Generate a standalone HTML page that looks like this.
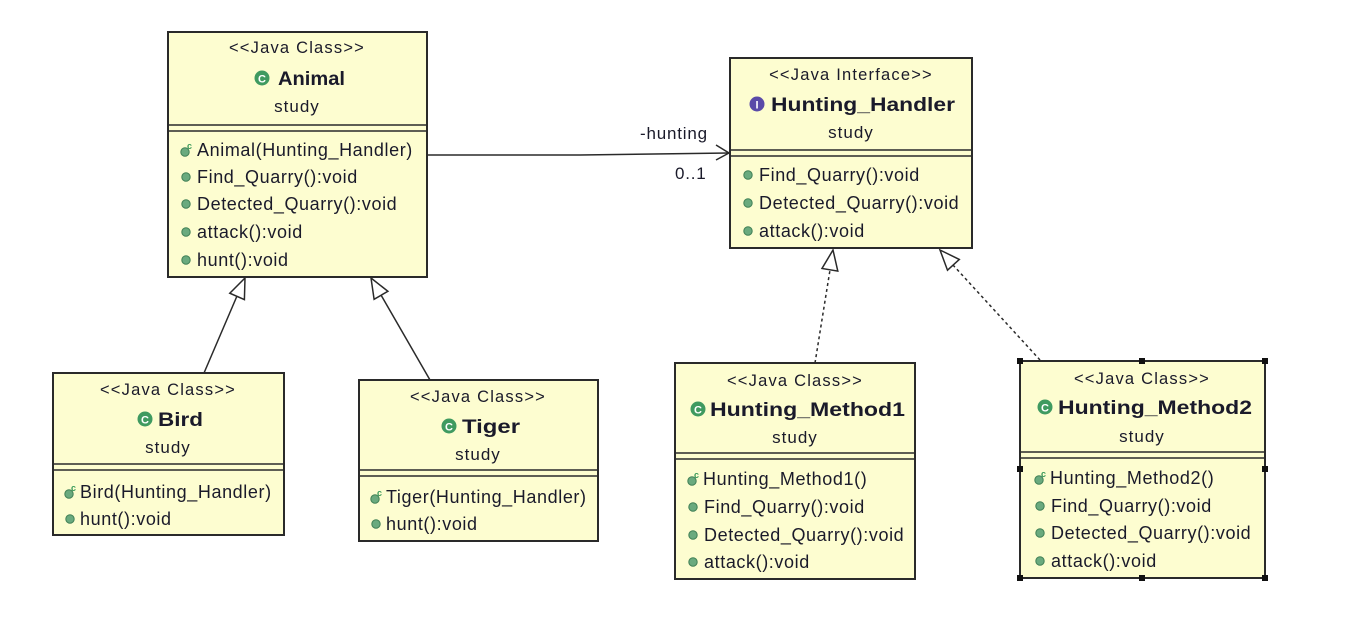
<!DOCTYPE html>
<html><head><meta charset="utf-8"><style>
html,body{margin:0;padding:0;background:#fff;width:1354px;height:626px;overflow:hidden}
svg{display:block}
text{font-family:"Liberation Sans",sans-serif;fill:#1a1a2a}
.st{font-size:16.5px;text-anchor:middle;letter-spacing:1.2px}
.nm{font-size:19px;font-weight:bold}
.pk{font-size:17px;text-anchor:middle;letter-spacing:1px}
.r{font-size:18px;letter-spacing:0.6px}
.lb{font-size:17px;letter-spacing:0.8px}
</style></head><body>
<svg width="1354" height="626" xmlns="http://www.w3.org/2000/svg">
<defs>
<g id="dot"><circle r="4.2" fill="#6aaa7e" stroke="#3f7f55" stroke-width="1"/></g>
<g id="ctor"><circle r="4.2" cx="-1" cy="2" fill="#6aaa7e" stroke="#3f7f55" stroke-width="1"/><text x="1" y="-1" style="font-size:9px;font-weight:bold;fill:#3a9a5a">c</text></g>
<g id="cls"><circle r="7.5" fill="#3f9a60"/><text y="4.5" style="font-size:11px;font-weight:bold;fill:#fff;text-anchor:middle">C</text></g>
<g id="itf"><circle r="7.5" fill="#5a4aa8"/><text y="4.5" style="font-size:11px;font-weight:bold;fill:#fff;text-anchor:middle">I</text></g>
</defs>
<g fill="#fdfdd0" stroke="#2a2a2a" stroke-width="2">
<rect x="168" y="32" width="259" height="245"/>
<rect x="730" y="58" width="242" height="190"/>
<rect x="53" y="373" width="231" height="162"/>
<rect x="359" y="380" width="239" height="161"/>
<rect x="675" y="363" width="240" height="216"/>
<rect x="1020" y="361" width="245" height="217"/>
</g>
<g stroke="#2a2a2a" stroke-width="1.5">
<line x1="168" y1="125" x2="427" y2="125"/><line x1="168" y1="131" x2="427" y2="131"/>
<line x1="730" y1="150" x2="972" y2="150"/><line x1="730" y1="156" x2="972" y2="156"/>
<line x1="53" y1="464" x2="284" y2="464"/><line x1="53" y1="470" x2="284" y2="470"/>
<line x1="359" y1="470" x2="598" y2="470"/><line x1="359" y1="476" x2="598" y2="476"/>
<line x1="675" y1="453" x2="915" y2="453"/><line x1="675" y1="459" x2="915" y2="459"/>
<line x1="1020" y1="452" x2="1265" y2="452"/><line x1="1020" y1="458" x2="1265" y2="458"/>
</g>
<g fill="#111">
<rect x="1017" y="358" width="6" height="6"/><rect x="1139" y="358" width="6" height="6"/><rect x="1262" y="358" width="6" height="6"/>
<rect x="1017" y="466" width="6" height="6"/><rect x="1262" y="466" width="6" height="6"/>
<rect x="1017" y="575" width="6" height="6"/><rect x="1139" y="575" width="6" height="6"/><rect x="1262" y="575" width="6" height="6"/>
</g>
<!-- Animal -->
<text class="st" x="297" y="53">&lt;&lt;Java Class&gt;&gt;</text>
<use href="#cls" x="262" y="78"/><text class="nm" x="278" y="85" textLength="67" lengthAdjust="spacingAndGlyphs">Animal</text>
<text class="pk" x="297" y="112">study</text>
<use href="#ctor" x="186" y="150"/><text class="r" x="197" y="156">Animal(Hunting_Handler)</text>
<use href="#dot" x="186" y="177"/><text class="r" x="197" y="183">Find_Quarry():void</text>
<use href="#dot" x="186" y="204"/><text class="r" x="197" y="210">Detected_Quarry():void</text>
<use href="#dot" x="186" y="232"/><text class="r" x="197" y="238">attack():void</text>
<use href="#dot" x="186" y="260"/><text class="r" x="197" y="266">hunt():void</text>
<!-- Hunting_Handler -->
<text class="st" x="851" y="80">&lt;&lt;Java Interface&gt;&gt;</text>
<use href="#itf" x="757" y="104"/><text class="nm" x="771" y="111" textLength="184" lengthAdjust="spacingAndGlyphs">Hunting_Handler</text>
<text class="pk" x="851" y="138">study</text>
<use href="#dot" x="748" y="175"/><text class="r" x="759" y="181">Find_Quarry():void</text>
<use href="#dot" x="748" y="203"/><text class="r" x="759" y="209">Detected_Quarry():void</text>
<use href="#dot" x="748" y="231"/><text class="r" x="759" y="237">attack():void</text>
<!-- Bird -->
<text class="st" x="168" y="395">&lt;&lt;Java Class&gt;&gt;</text>
<use href="#cls" x="145" y="419"/><text class="nm" x="158" y="426" textLength="45" lengthAdjust="spacingAndGlyphs">Bird</text>
<text class="pk" x="168" y="453">study</text>
<use href="#ctor" x="70" y="492"/><text class="r" x="80" y="498">Bird(Hunting_Handler)</text>
<use href="#dot" x="70" y="519"/><text class="r" x="80" y="525">hunt():void</text>
<!-- Tiger -->
<text class="st" x="478" y="402">&lt;&lt;Java Class&gt;&gt;</text>
<use href="#cls" x="449" y="426"/><text class="nm" x="462" y="433" textLength="58" lengthAdjust="spacingAndGlyphs">Tiger</text>
<text class="pk" x="478" y="460">study</text>
<use href="#ctor" x="376" y="497"/><text class="r" x="386" y="503">Tiger(Hunting_Handler)</text>
<use href="#dot" x="376" y="524"/><text class="r" x="386" y="530">hunt():void</text>
<!-- HM1 -->
<text class="st" x="795" y="386">&lt;&lt;Java Class&gt;&gt;</text>
<use href="#cls" x="698" y="409"/><text class="nm" x="710" y="416" textLength="195" lengthAdjust="spacingAndGlyphs">Hunting_Method1</text>
<text class="pk" x="795" y="443">study</text>
<use href="#ctor" x="693" y="479"/><text class="r" x="703" y="485">Hunting_Method1()</text>
<use href="#dot" x="693" y="507"/><text class="r" x="704" y="513">Find_Quarry():void</text>
<use href="#dot" x="693" y="535"/><text class="r" x="704" y="541">Detected_Quarry():void</text>
<use href="#dot" x="693" y="562"/><text class="r" x="704" y="568">attack():void</text>
<!-- HM2 -->
<text class="st" x="1142" y="384">&lt;&lt;Java Class&gt;&gt;</text>
<use href="#cls" x="1045" y="407"/><text class="nm" x="1058" y="414" textLength="194" lengthAdjust="spacingAndGlyphs">Hunting_Method2</text>
<text class="pk" x="1142" y="442">study</text>
<use href="#ctor" x="1040" y="478"/><text class="r" x="1050" y="484">Hunting_Method2()</text>
<use href="#dot" x="1040" y="506"/><text class="r" x="1051" y="512">Find_Quarry():void</text>
<use href="#dot" x="1040" y="533"/><text class="r" x="1051" y="539">Detected_Quarry():void</text>
<use href="#dot" x="1040" y="561"/><text class="r" x="1051" y="567">attack():void</text>
<!-- connectors -->
<g stroke="#2a2a2a" stroke-width="1.5" fill="none">
<polyline points="428,155 580,155 729,153"/>
<polyline points="716,145 729,153 716,160"/>
<line x1="204" y1="373" x2="237" y2="296"/>
<polygon points="245,278 244.4,299.6 229.8,293.2" fill="#fff"/>
<line x1="430" y1="380" x2="381" y2="295"/>
<polygon points="371,278 387.9,291.3 374.1,299.3" fill="#fff"/>
<line x1="815" y1="363" x2="830" y2="270" stroke-dasharray="3,3"/>
<polygon points="833,250 837.8,271.1 822,268.5" fill="#fff"/>
<line x1="1040" y1="360" x2="953" y2="265" stroke-dasharray="3,3"/>
<polygon points="940,250 959.3,259.4 947.5,270.2" fill="#fff"/>
</g>
<text class="lb" x="640" y="139">-hunting</text>
<text class="lb" x="675" y="179">0..1</text>
</svg>
</body></html>
